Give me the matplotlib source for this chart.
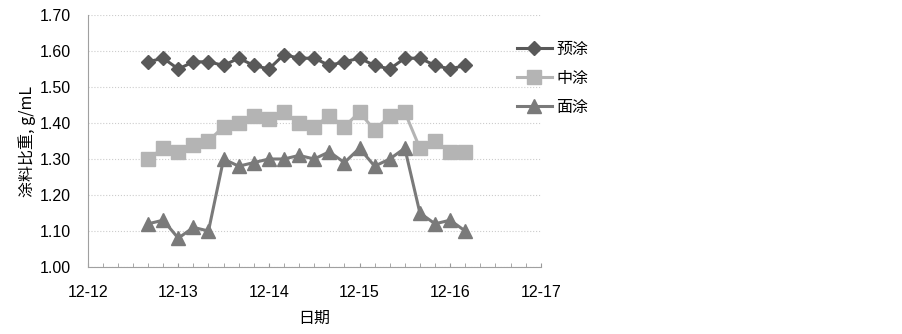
import matplotlib
matplotlib.use("Agg")
from matplotlib import pyplot as plt
import matplotlib.dates as mdates
from matplotlib.ticker import FixedLocator
import pandas as pd

plt.rcParams['font.family'] = ['Liberation Sans', 'Noto Sans CJK SC', 'DejaVu Sans']

# 采样时间: 每4小时一次
times = pd.date_range("2013-12-12 16:00", periods=22, freq="4h")
date_ticks = ["2013-12-12", "2013-12-13", "2013-12-14", "2013-12-15", "2013-12-16", "2013-12-17"]
series_names = ["预涂", "中涂", "面涂"]

pre_coat = [1.57, 1.58, 1.55, 1.57, 1.57, 1.56, 1.58, 1.56, 1.55, 1.59, 1.58,
            1.58, 1.56, 1.57, 1.58, 1.56, 1.55, 1.58, 1.58, 1.56, 1.55, 1.56]
mid_coat = [1.30, 1.33, 1.32, 1.34, 1.35, 1.39, 1.40, 1.42, 1.41, 1.43, 1.40,
            1.39, 1.42, 1.39, 1.43, 1.38, 1.42, 1.43, 1.33, 1.35, 1.32, 1.32]
top_coat = [1.12, 1.13, 1.08, 1.11, 1.10, 1.30, 1.28, 1.29, 1.30, 1.30, 1.31,
            1.30, 1.32, 1.29, 1.33, 1.28, 1.30, 1.33, 1.15, 1.12, 1.13, 1.10]

fig = plt.figure(figsize=(9.03, 3.34), dpi=100)
ax = fig.add_axes([0.0971, 0.2006, 0.5017, 0.7545])

ax.plot(times, pre_coat, color='#595959', marker='D', markersize=7.5, linewidth=2.2,
        label=series_names[0], zorder=3)
ax.plot(times, mid_coat, color='#b4b4b4', marker='s', markersize=9.5, linewidth=2.2,
        label=series_names[1], zorder=3)
ax.plot(times, top_coat, color='#7a7a7a', marker='^', markersize=10, linewidth=2.2,
        label=series_names[2], zorder=3)

# 坐标轴
major = [mdates.date2num(pd.Timestamp(d)) for d in date_ticks]
ax.set_xlim(major[0], major[-1])
ax.set_ylim(1.00, 1.70)
ax.set_yticks([1.00, 1.10, 1.20, 1.30, 1.40, 1.50, 1.60, 1.70])
ax.set_yticklabels([f"{v:.2f}" for v in ax.get_yticks()], fontsize=11.5)
ax.xaxis.set_major_locator(FixedLocator(major))
ax.xaxis.set_major_formatter(mdates.DateFormatter('%m-%d'))
ax.xaxis.set_minor_locator(mdates.HourLocator(byhour=[4, 8, 12, 16, 20]))
ax.tick_params(axis='x', which='both', direction='in', length=3, color='#999999',
               labelsize=11.5, pad=13)
ax.tick_params(axis='y', length=0, pad=12)

ax.grid(axis='y', color='#cccccc', linestyle=':', linewidth=0.8)
for side in ['top', 'right']:
    ax.spines[side].set_visible(False)
ax.spines['left'].set_color('#a0a0a0')
ax.spines['bottom'].set_color('#a0a0a0')

ax.set_xlabel('日期', fontsize=11.5, labelpad=7, family=['Noto Sans CJK SC', 'DejaVu Sans'])
ax.set_ylabel('涂料比重, g/mL', fontsize=11.5, labelpad=3,
              family=['Noto Sans CJK SC', 'DejaVu Sans'])

ax.legend(loc='upper left', bbox_to_anchor=(0.929, 0.93), frameon=False, borderpad=0,
          prop={'family': ['Noto Sans CJK SC'], 'size': 11.5},
          handlelength=2.2, handletextpad=0.3, labelspacing=0.75)

fig.savefig('out.png', dpi=100)
